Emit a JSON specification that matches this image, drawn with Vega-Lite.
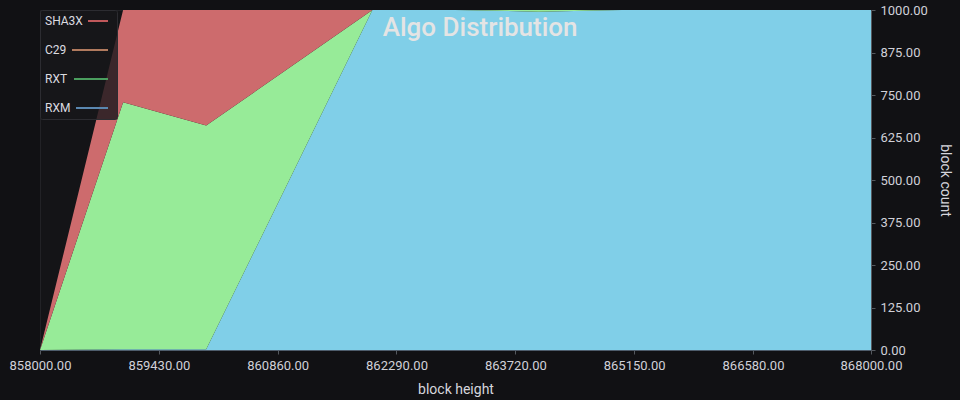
{
  "$schema": "https://vega.github.io/schema/vega-lite/v6.json",
  "width": 831,
  "height": 340,
  "autosize": {"type": "none"},
  "padding": {"left": 40, "top": 10, "right": 89, "bottom": 50},
  "background": "#111114",
  "config": {
    "view": {"fill": "#141417", "stroke": "#222226"},
    "font": "Roboto"
  },
  "title": {
    "text": "Algo Distribution",
    "fontSize": 26,
    "fontWeight": 500,
    "color": "#e4e4e4",
    "anchor": "middle",
    "frame": "bounds",
    "offset": -37
  },
  "data": {
    "values": [
      {"block": 858000, "algo": "RXM", "count": 0},
      {"block": 858000, "algo": "RXT", "count": 0},
      {"block": 858000, "algo": "C29", "count": 0},
      {"block": 858000, "algo": "SHA3X", "count": 0},
      {"block": 859000, "algo": "RXM", "count": 2},
      {"block": 859000, "algo": "RXT", "count": 727},
      {"block": 859000, "algo": "C29", "count": 0},
      {"block": 859000, "algo": "SHA3X", "count": 271},
      {"block": 860000, "algo": "RXM", "count": 2},
      {"block": 860000, "algo": "RXT", "count": 658},
      {"block": 860000, "algo": "C29", "count": 0},
      {"block": 860000, "algo": "SHA3X", "count": 340},
      {"block": 861000, "algo": "RXM", "count": 500},
      {"block": 861000, "algo": "RXT", "count": 330},
      {"block": 861000, "algo": "C29", "count": 0},
      {"block": 861000, "algo": "SHA3X", "count": 170},
      {"block": 862000, "algo": "RXM", "count": 1000},
      {"block": 862000, "algo": "RXT", "count": 0},
      {"block": 862000, "algo": "C29", "count": 0},
      {"block": 862000, "algo": "SHA3X", "count": 0},
      {"block": 863000, "algo": "RXM", "count": 1000},
      {"block": 863000, "algo": "RXT", "count": 0},
      {"block": 863000, "algo": "C29", "count": 0},
      {"block": 863000, "algo": "SHA3X", "count": 0},
      {"block": 864000, "algo": "RXM", "count": 995},
      {"block": 864000, "algo": "RXT", "count": 5},
      {"block": 864000, "algo": "C29", "count": 0},
      {"block": 864000, "algo": "SHA3X", "count": 0},
      {"block": 865000, "algo": "RXM", "count": 1000},
      {"block": 865000, "algo": "RXT", "count": 0},
      {"block": 865000, "algo": "C29", "count": 0},
      {"block": 865000, "algo": "SHA3X", "count": 0},
      {"block": 866000, "algo": "RXM", "count": 1000},
      {"block": 866000, "algo": "RXT", "count": 0},
      {"block": 866000, "algo": "C29", "count": 0},
      {"block": 866000, "algo": "SHA3X", "count": 0},
      {"block": 867000, "algo": "RXM", "count": 1000},
      {"block": 867000, "algo": "RXT", "count": 0},
      {"block": 867000, "algo": "C29", "count": 0},
      {"block": 867000, "algo": "SHA3X", "count": 0},
      {"block": 868000, "algo": "RXM", "count": 1000},
      {"block": 868000, "algo": "RXT", "count": 0},
      {"block": 868000, "algo": "C29", "count": 0},
      {"block": 868000, "algo": "SHA3X", "count": 0}
    ]
  },
  "transform": [
    {"calculate": "indexof(['RXM','RXT','C29','SHA3X'], datum.algo)", "as": "stack_rank"}
  ],
  "mark": {"type": "area", "clip": true, "opacity": 1},
  "encoding": {
    "x": {
      "field": "block",
      "type": "quantitative",
      "scale": {"domain": [858000, 868000], "nice": false, "zero": false},
      "axis": {
        "values": [858000, 859430, 860860, 862290, 863720, 865150, 866580, 868000],
        "format": ".2f",
        "grid": false,
        "title": "block height",
        "titleColor": "#d6d6dc",
        "titleFontSize": 14,
        "titleFontWeight": "normal",
        "titlePadding": 10,
        "labelColor": "#d0d0d8",
        "labelFontSize": 13,
        "labelPadding": 5,
        "labelFlush": false,
        "tickSize": 4,
        "tickColor": "#55595f",
        "domainColor": "#4e5d6c"
      }
    },
    "y": {
      "field": "count",
      "type": "quantitative",
      "stack": "zero",
      "scale": {"domain": [0, 1000], "nice": false},
      "axis": {
        "orient": "right",
        "values": [0, 125, 250, 375, 500, 625, 750, 875, 1000],
        "format": ".2f",
        "grid": false,
        "title": "block count",
        "titleColor": "#d6d6dc",
        "titleFontSize": 14,
        "titleFontWeight": "normal",
        "titlePadding": 10,
        "labelColor": "#d0d0d8",
        "labelFontSize": 13,
        "labelPadding": 5,
        "tickSize": 4,
        "tickColor": "#55595f",
        "domainColor": "#55595f"
      }
    },
    "color": {
      "field": "algo",
      "type": "nominal",
      "scale": {
        "domain": ["SHA3X", "C29", "RXT", "RXM"],
        "range": ["#cd6b6d", "#e0a882", "#97eb98", "#80cfe8"]
      },
      "legend": {
        "title": null,
        "orient": "top-left",
        "offset": 0,
        "fillColor": "rgba(22,22,26,0.8)",
        "strokeColor": "#2c2c31",
        "padding": 5,
        "cornerRadius": 2,
        "symbolType": {"expr": "datum.value === 'SHA3X' ? 'M-2,0H2' : datum.value === 'C29' ? 'M-5.2,0H2' : datum.value === 'RXT' ? 'M-4.8,0H2' : 'M-4.4,0H2'"},
        "symbolSize": 100,
        "symbolStrokeWidth": 2,
        "symbolStrokeColor": {"expr": "datum.value === 'SHA3X' ? '#c0585b' : datum.value === 'C29' ? '#b07a5e' : datum.value === 'RXT' ? '#4b9e5f' : '#5a87b0'"},
        "symbolOffset": 47,
        "labelOffset": -59,
        "labelFontSize": 12,
        "labelColor": "#dcdce0",
        "rowPadding": 17
      }
    },
    "order": {"field": "stack_rank", "type": "quantitative"}
  }
}
